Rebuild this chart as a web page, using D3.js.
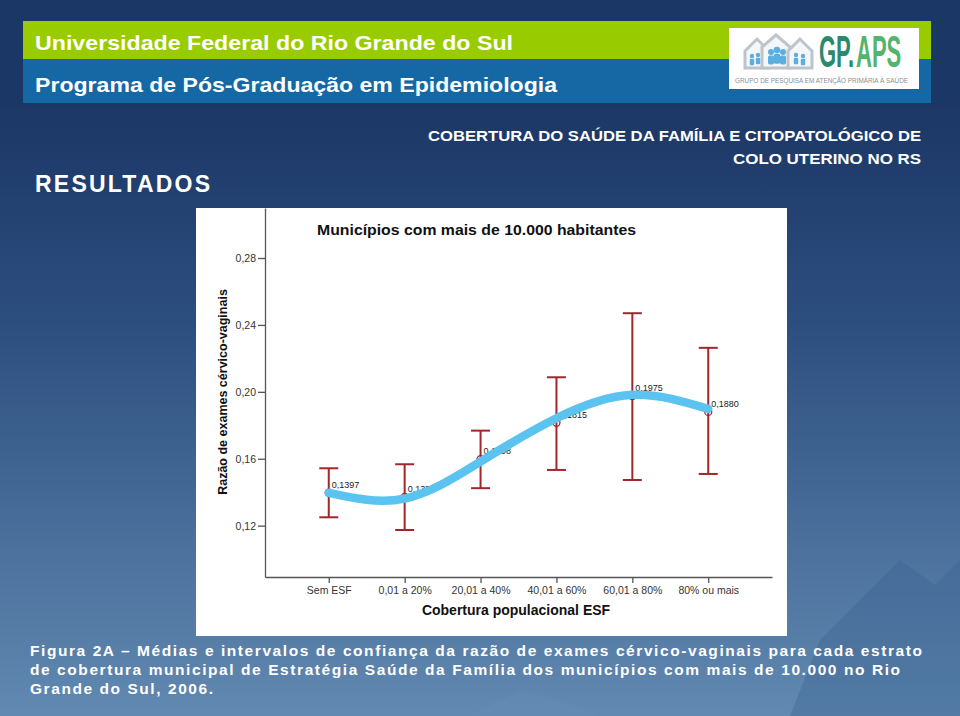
<!DOCTYPE html>
<html><head><meta charset="utf-8">
<script src="https://cdn.jsdelivr.net/npm/d3@7"></script>
<style>html,body{margin:0;padding:0;background:#1b3766;} svg{display:block;}</style>
</head><body>
<svg id="c" width="960" height="716"></svg>
<script>
// ---- data ----
const categories = ["Sem ESF", "0,01 a 20%", "20,01 a 40%", "40,01 a 60%", "60,01 a 80%", "80% ou mais"];
const means  = [0.1397, 0.1372, 0.1598, 0.1815, 0.1975, 0.1880];
const ciLow  = [0.1250, 0.1174, 0.1424, 0.1533, 0.1473, 0.1509];
const ciHigh = [0.1543, 0.1567, 0.1768, 0.2087, 0.2470, 0.2263];
const fitValues = [0.1396, 0.1362, 0.1583, 0.1842, 0.1982, 0.1898];
const yTicks = [0.12, 0.16, 0.20, 0.24, 0.28];
const yDomain = [0.0893, 0.3099];

const headerLine1 = "Universidade Federal do Rio Grande do Sul";
const headerLine2 = "Programa de Pós-Graduação em Epidemiologia";
const sectionTitle = "RESULTADOS";
const slideTitle = ["COBERTURA DO SAÚDE DA FAMÍLIA E CITOPATOLÓGICO DE", "COLO UTERINO NO RS"];
const chartTitle = "Municípios com mais de 10.000 habitantes";
const yTitle = "Razão de exames cérvico-vaginais";
const xTitle = "Cobertura populacional ESF";
const captionLines = [
  "Figura 2A – Médias e intervalos de confiança da razão de exames cérvico-vaginais para cada estrato",
  "de cobertura municipal de Estratégia Saúde da Família dos municípios com mais de 10.000 no Rio",
  "Grande do Sul, 2006."
];

const FONT = "'Liberation Sans', Arial, Helvetica, sans-serif";
const svg = d3.select("#c");
const defs = svg.append("defs");
const grad = defs.append("linearGradient").attr("id", "bg").attr("x1", 0).attr("y1", 0).attr("x2", 0).attr("y2", 1);
[[0, "#1a3462"], [0.18, "#1d3968"], [0.45, "#2c4e7f"], [0.75, "#4a6f9b"], [1, "#6189b1"]]
  .forEach(([o, c]) => grad.append("stop").attr("offset", o).attr("stop-color", c));

svg.append("rect").attr("width", 960).attr("height", 716).attr("fill", "url(#bg)");
// background glacier shape
svg.append("path")
  .attr("d", "M790,716 L820,640 L860,600 L900,560 L935,585 L960,560 L960,716 Z")
  .attr("fill", "#3c6491").attr("opacity", 0.4);
svg.append("path")
  .attr("d", "M470,716 L520,690 L560,700 L600,716 Z")
  .attr("fill", "#6a90b6").attr("opacity", 0.3);

// header bars
svg.append("rect").attr("x", 0).attr("y", 0).attr("width", 960).attr("height", 108).attr("fill", "#1b3766");
svg.append("rect").attr("x", 23).attr("y", 21).attr("width", 908).attr("height", 38).attr("fill", "#99cc00");
svg.append("rect").attr("x", 23).attr("y", 59).attr("width", 908).attr("height", 44).attr("fill", "#1568a3");

svg.append("text").attr("x", 35).attr("y", 50).text(headerLine1)
  .attr("font-family", FONT).attr("font-weight", "bold").attr("font-size", 21).attr("fill", "#fff")
  .attr("textLength", 478).attr("lengthAdjust", "spacingAndGlyphs");
svg.append("text").attr("x", 35).attr("y", 92).text(headerLine2)
  .attr("font-family", FONT).attr("font-weight", "bold").attr("font-size", 21).attr("fill", "#fff")
  .attr("textLength", 522).attr("lengthAdjust", "spacingAndGlyphs");

// logo
const logo = svg.append("g");
logo.append("rect").attr("x", 729).attr("y", 28).attr("width", 190).attr("height", 61).attr("fill", "#fff");
const houses = [[757, 39, 12, 29], [776, 35, 14, 33], [800, 39, 12, 29]];
houses.forEach(([cx, top, hw, h]) => {
  logo.append("path")
    .attr("d", `M${cx - hw},${top + 12} L${cx},${top} L${cx + hw},${top + 12} L${cx + hw},${top + h} L${cx - hw},${top + h} Z`)
    .attr("fill", "#f4f6f8").attr("stroke", "#bcc4cc").attr("stroke-width", 3);
});
const people = [[752, 56, 2.2], [758, 55, 2.2], [771, 52, 3], [777, 50, 3.3], [783, 52, 3], [796, 55, 2.2], [803, 56, 2.2]];
people.forEach(([px, py, r]) => {
  logo.append("circle").attr("cx", px).attr("cy", py).attr("r", r).attr("fill", "#5aaee0");
  logo.append("rect").attr("x", px - r).attr("y", py + r + 0.5).attr("width", 2 * r).attr("height", r * 3)
    .attr("rx", r * 0.6).attr("fill", "#5aaee0");
});
logo.append("text").attr("transform", "translate(819,67) scale(1,2)").text("GP.")
  .attr("font-family", FONT).attr("font-weight", "bold").attr("font-size", 22).attr("fill", "#2b8a6c");
logo.append("text").attr("transform", "translate(856,67) scale(1,2)").text("APS")
  .attr("font-family", FONT).attr("font-weight", "bold").attr("font-size", 22).attr("fill", "#55b46c");
logo.append("text").attr("x", 735).attr("y", 83).text("GRUPO DE PESQUISA EM ATENÇÃO PRIMÁRIA À SAÚDE")
  .attr("font-family", FONT).attr("font-size", 7).attr("fill", "#8a8f94")
  .attr("textLength", 173).attr("lengthAdjust", "spacingAndGlyphs");

// section title + slide title
svg.append("text").attr("x", 35).attr("y", 192).text(sectionTitle)
  .attr("font-family", FONT).attr("font-weight", "bold").attr("font-size", 23).attr("fill", "#fff")
  .attr("textLength", 175).attr("lengthAdjust", "spacing");
svg.append("text").attr("x", 921).attr("y", 141).attr("text-anchor", "end").text(slideTitle[0])
  .attr("font-family", FONT).attr("font-weight", "bold").attr("font-size", 15.5).attr("fill", "#fff")
  .attr("textLength", 493).attr("lengthAdjust", "spacingAndGlyphs");
svg.append("text").attr("x", 921).attr("y", 164).attr("text-anchor", "end").text(slideTitle[1])
  .attr("font-family", FONT).attr("font-weight", "bold").attr("font-size", 15.5).attr("fill", "#fff")
  .attr("textLength", 188).attr("lengthAdjust", "spacingAndGlyphs");

// chart panel
svg.append("rect").attr("x", 196).attr("y", 208).attr("width", 591).attr("height", 428).attr("fill", "#fff");

svg.append("text").attr("x", 317).attr("y", 235).text(chartTitle)
  .attr("font-family", FONT).attr("font-weight", "bold").attr("font-size", 15).attr("fill", "#111")
  .attr("textLength", 319).attr("lengthAdjust", "spacingAndGlyphs");

const x = d3.scalePoint().domain(categories).range([265, 772]).padding(0.84);
const y = d3.scaleLinear().domain(yDomain).range([577, 208]);
const commaFmt = f => v => d3.format(f)(v).replace(".", ",");

const gy = svg.append("g").attr("transform", "translate(265,0)")
  .call(d3.axisLeft(y).tickValues(yTicks).tickSize(7).tickPadding(2).tickSizeOuter(0).tickFormat(commaFmt(".2f")));
const gx = svg.append("g").attr("transform", "translate(0,577)")
  .call(d3.axisBottom(x).tickSize(6).tickPadding(4).tickSizeOuter(0));
[gx, gy].forEach(g => {
  g.selectAll("path, line").attr("stroke", "#555").attr("stroke-width", 1.3);
  g.selectAll("text").attr("font-family", FONT).attr("font-size", 10.5).attr("fill", "#333");
});

svg.append("text").attr("transform", "translate(227,392) rotate(-90)").attr("text-anchor", "middle").text(yTitle)
  .attr("font-family", FONT).attr("font-weight", "bold").attr("font-size", 12.5).attr("fill", "#111");
svg.append("text").attr("x", 516).attr("y", 615).attr("text-anchor", "middle").text(xTitle)
  .attr("font-family", FONT).attr("font-weight", "bold").attr("font-size", 14).attr("fill", "#111");

// error bars
const ERR = "#a3262b";
const eb = svg.append("g").selectAll("g").data(categories).join("g");
eb.append("line").attr("x1", d => x(d)).attr("x2", d => x(d))
  .attr("y1", (d, i) => y(ciHigh[i])).attr("y2", (d, i) => y(ciLow[i]))
  .attr("stroke", ERR).attr("stroke-width", 2);
eb.append("line").attr("x1", d => x(d) - 9.5).attr("x2", d => x(d) + 9.5)
  .attr("y1", (d, i) => y(ciHigh[i])).attr("y2", (d, i) => y(ciHigh[i]))
  .attr("stroke", ERR).attr("stroke-width", 2);
eb.append("line").attr("x1", d => x(d) - 9.5).attr("x2", d => x(d) + 9.5)
  .attr("y1", (d, i) => y(ciLow[i])).attr("y2", (d, i) => y(ciLow[i]))
  .attr("stroke", ERR).attr("stroke-width", 2);
eb.append("circle").attr("cx", d => x(d)).attr("cy", (d, i) => y(means[i])).attr("r", 3.5)
  .attr("fill", "none").attr("stroke", ERR).attr("stroke-width", 1.3);
eb.append("text").attr("x", d => x(d) + 3).attr("y", (d, i) => y(means[i]) - 5)
  .text((d, i) => commaFmt(".4f")(means[i]))
  .attr("font-family", FONT).attr("font-size", 9).attr("fill", "#222");

// fit line
const line = d3.line().x(d => x(d[0])).y(d => y(d[1])).curve(d3.curveNatural);
svg.append("path").datum(categories.map((c, i) => [c, fitValues[i]]))
  .attr("d", line).attr("fill", "none").attr("stroke", "#5bc3f0")
  .attr("stroke-width", 8.5).attr("stroke-linecap", "round");

// caption
const capLens = [892, 870, 183];
captionLines.forEach((t, i) => {
  svg.append("text").attr("x", 30).attr("y", 656 + i * 19).text(t)
    .attr("font-family", FONT).attr("font-weight", "bold").attr("font-size", 15.5).attr("fill", "#fff")
    .attr("textLength", capLens[i]).attr("lengthAdjust", "spacing");
});
</script>
</body></html>
